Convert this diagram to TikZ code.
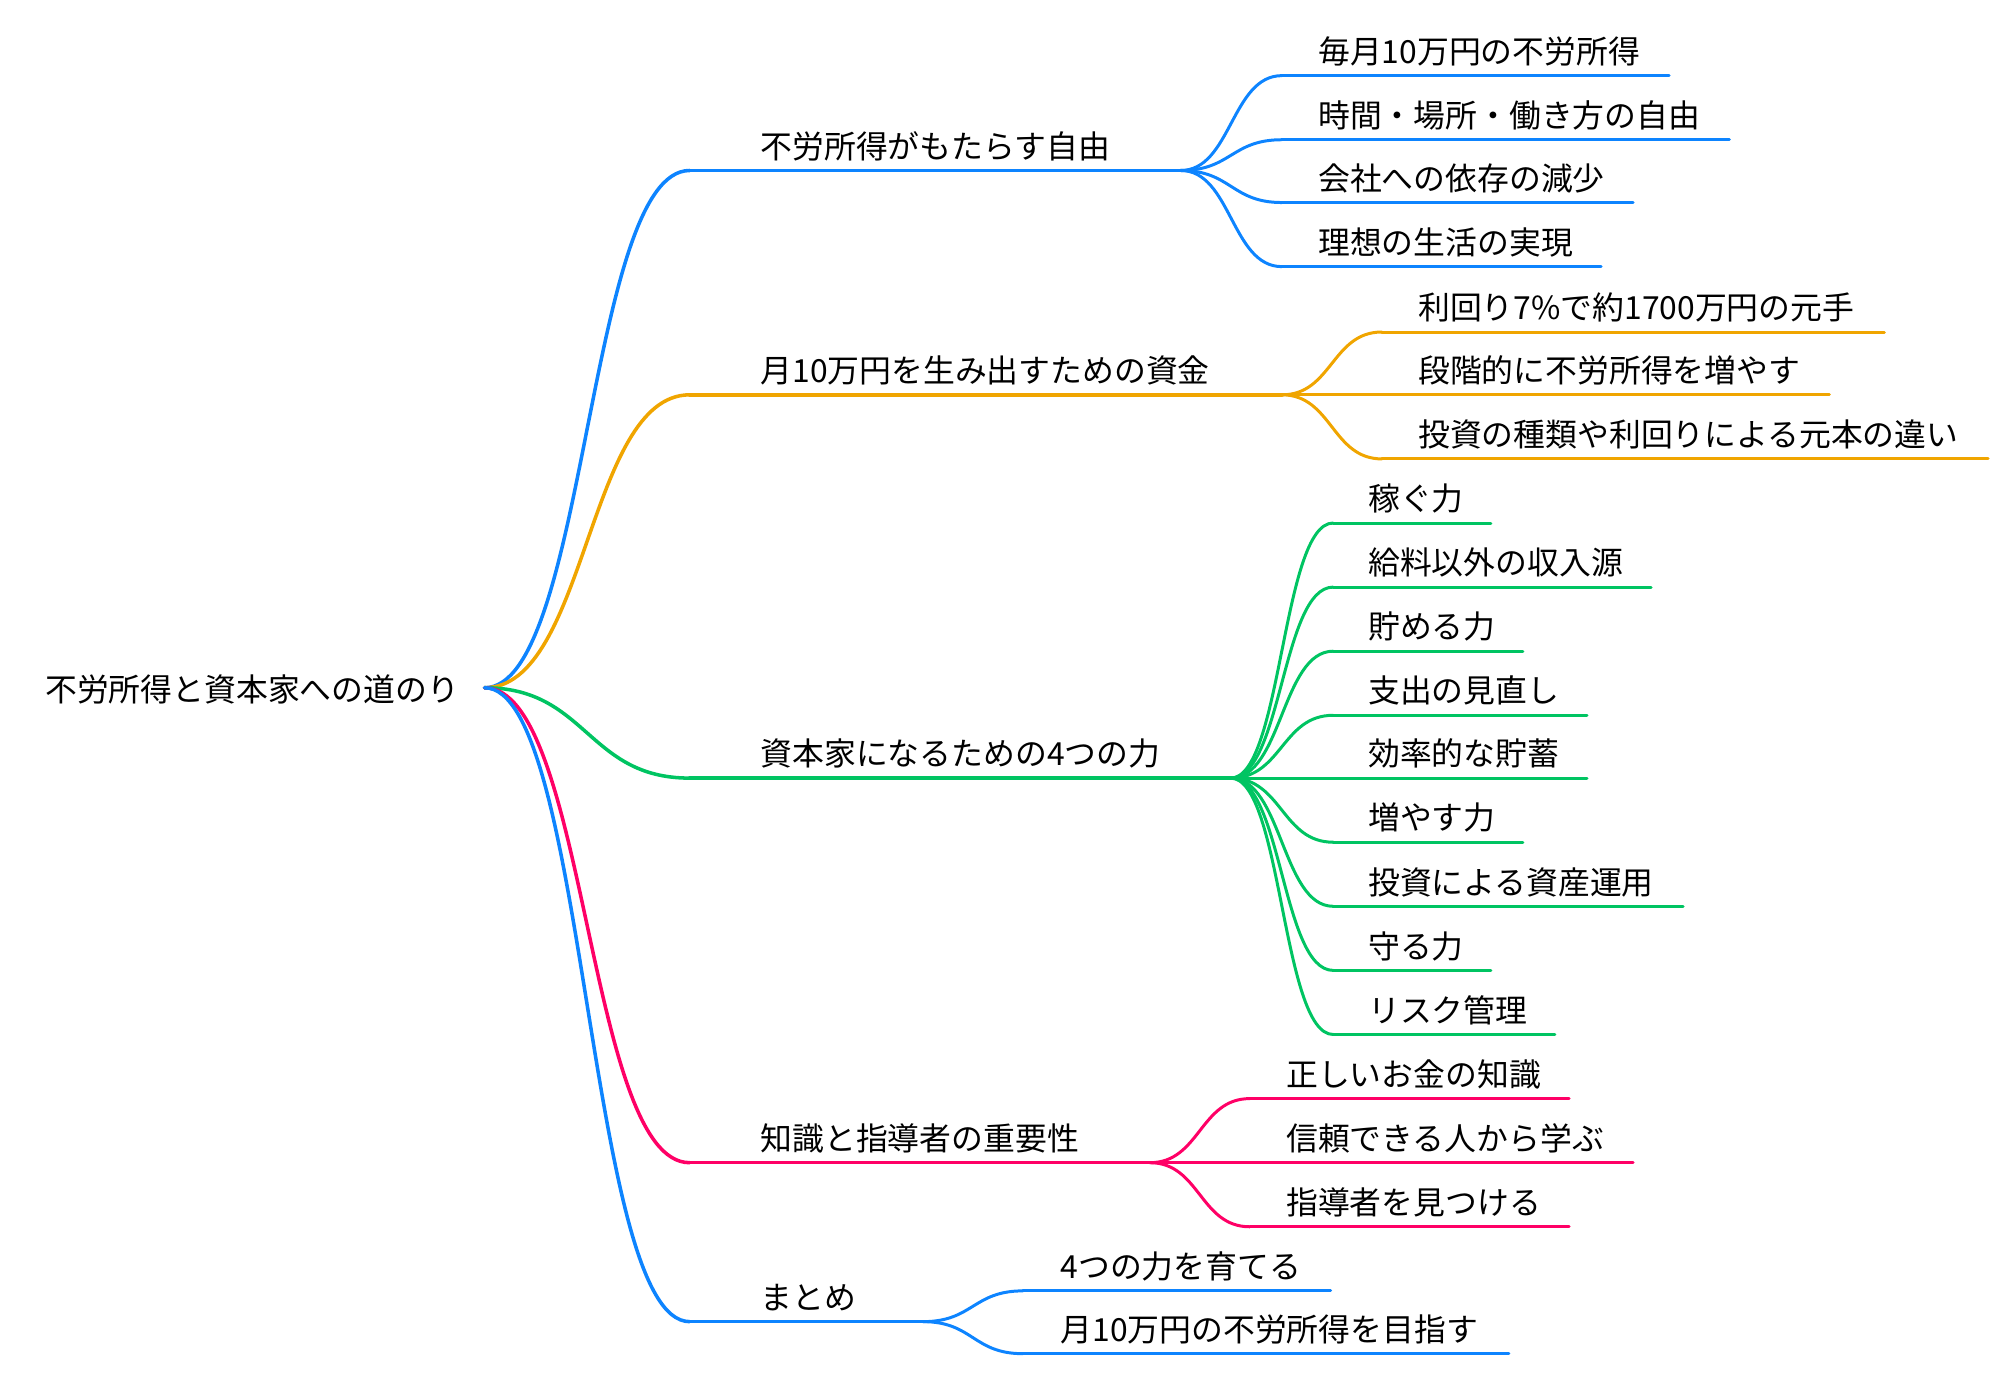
\documentclass[tikz,border=0pt]{standalone}
\usepackage{fontspec}
\newfontfamily\jpfont{Noto Sans CJK JP}
\usetikzlibrary{calc}
\definecolor{cblue}{RGB}{13,132,255}
\definecolor{corange}{RGB}{240,165,0}
\definecolor{cgreen}{RGB}{0,196,98}
\definecolor{cpink}{RGB}{255,0,102}
\newcommand\mmlink[3]{\draw[#1] let \p1=(#2), \p2=(#3) in (#2) .. controls ({0.5*\x1+0.5*\x2},\y1) and ({0.5*\x1+0.5*\x2},\y2) .. (#3);}
% #1 name, #2 parent, #3 style, #4 line start x, #5 line y, #6 line end x, #7 text x, #8 text
\newcommand\mmkid[8]{%
  \coordinate (#1s) at (#4,#5);
  \coordinate (#1e) at (#6,#5);
  \node[lbl] (#1) at (#7,{#5-9.6}) {#8};
  \mmlink{#3}{#2}{#1s}
  \draw[#3] (#1s) -- (#1e);}
\begin{document}
\begin{tikzpicture}[x=0.6pt,y=-0.6pt,
  lbl/.style={anchor=base west,inner sep=0pt,font=\jpfont\fontsize{14.9pt}{17pt}\selectfont},
  lva/.style={line width=1.65pt,line cap=round},
  lvb/.style={line width=1.4pt,line cap=round}]
\useasboundingbox (0,0) rectangle (1568,1073);
% root
\coordinate (root) at (378,536.5);
\node[lbl] (roottext) at (35,547.5) {不労所得と資本家への道のり};
% level 1
\mmkid{a}{root}{lva,cblue}{538}{133}{921}{593}{不労所得がもたらす自由}
\mmkid{b}{root}{lva,corange}{538}{308}{1000}{593}{月10万円を生み出すための資金}
\mmkid{c}{root}{lva,cgreen}{538}{607}{960}{593}{資本家になるための4つの力}
\mmkid{d}{root}{lva,cpink}{538}{907}{897}{593}{知識と指導者の重要性}
\mmkid{e}{root}{lva,cblue}{538}{1031}{720}{593}{まとめ}
% branch a
\mmkid{aa}{ae}{lvb,cblue}{1000}{59}{1302}{1028}{毎月10万円の不労所得}
\mmkid{ab}{ae}{lvb,cblue}{1000}{109}{1349}{1028}{時間・場所・働き方の自由}
\mmkid{ac}{ae}{lvb,cblue}{1000}{158}{1274}{1028}{会社への依存の減少}
\mmkid{ad}{ae}{lvb,cblue}{1000}{208}{1249}{1028}{理想の生活の実現}
% branch b
\mmkid{ba}{be}{lvb,corange}{1078}{259}{1470}{1106}{利回り7\%で約1700万円の元手}
\mmkid{bb}{be}{lvb,corange}{1078}{308}{1427}{1106}{段階的に不労所得を増やす}
\mmkid{bc}{be}{lvb,corange}{1078}{358}{1551}{1106}{投資の種類や利回りによる元本の違い}
% branch c
\mmkid{ca}{ce}{lvb,cgreen}{1040}{408}{1163}{1067}{稼ぐ力}
\mmkid{cb}{ce}{lvb,cgreen}{1040}{458}{1288}{1067}{給料以外の収入源}
\mmkid{cc}{ce}{lvb,cgreen}{1040}{508}{1188}{1067}{貯める力}
\mmkid{cd}{ce}{lvb,cgreen}{1040}{558}{1238}{1067}{支出の見直し}
\mmkid{cf}{ce}{lvb,cgreen}{1040}{607}{1238}{1067}{効率的な貯蓄}
\mmkid{cg}{ce}{lvb,cgreen}{1040}{657}{1188}{1067}{増やす力}
\mmkid{ch}{ce}{lvb,cgreen}{1040}{707}{1313}{1067}{投資による資産運用}
\mmkid{ci}{ce}{lvb,cgreen}{1040}{757}{1163}{1067}{守る力}
\mmkid{cj}{ce}{lvb,cgreen}{1040}{807}{1213}{1067}{リスク管理}
% branch d
\mmkid{da}{de}{lvb,cpink}{975}{857}{1224}{1003}{正しいお金の知識}
\mmkid{db}{de}{lvb,cpink}{975}{907}{1274}{1003}{信頼できる人から学ぶ}
\mmkid{dc}{de}{lvb,cpink}{975}{957}{1224}{1003}{指導者を見つける}
% branch e
\mmkid{ea}{ee}{lvb,cblue}{798}{1007}{1038}{827}{4つの力を育てる}
\mmkid{eb}{ee}{lvb,cblue}{798}{1056}{1177}{827}{月10万円の不労所得を目指す}
\end{tikzpicture}
\end{document}
